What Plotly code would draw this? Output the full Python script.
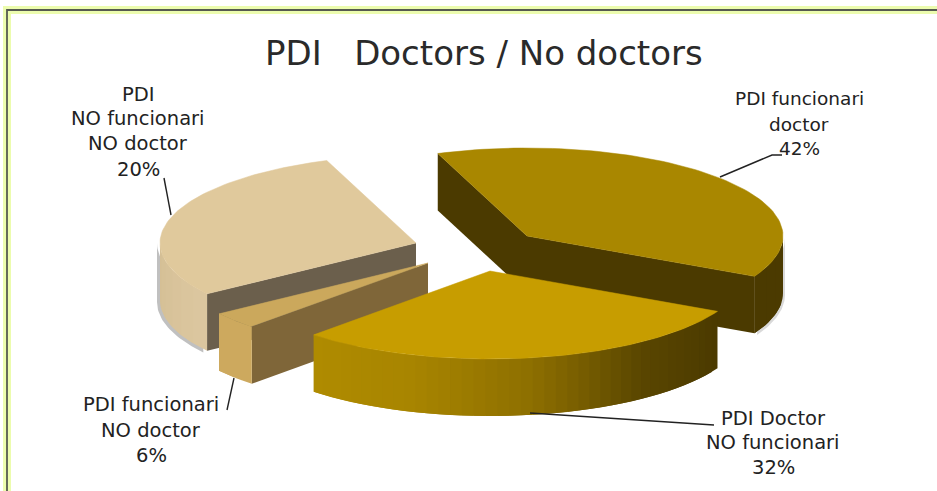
import numpy as np
import plotly.graph_objects as go

# ---- data ----
categories = ["PDI funcionari<br>doctor", "PDI Doctor<br>NO funcionari",
              "PDI funcionari<br>NO doctor", "PDI<br>NO funcionari<br>NO doctor"]
values = [42, 32, 6, 20]
title_text = "PDI\u00a0\u00a0\u00a0Doctors / No doctors"
top_colors = ["#a98700", "#c79d00", "#cba85c", "#e0c99c"]
wall_colors = ["#4b3a00", "#4b3a00", "#7f6639", "#6b5f4c"]
rim_colors = [["#4b3a00", "#4b3a00"],
              ["#4b3a00", "#5a4600", "#8d6f00", "#a88500", "#b08c00"],
              ["#cda95e", "#cda95e"],
              ["#dcc7a0", "#d5bf94"]]

# ---- 3D-look projection of the pie (pixel-based axes) ----
A, B, DEPTH = 256, 88, 57
# Each slice's exploded centre
centres = [(527, 236), (490, 271), (428, 263), (416, 243)]
# Foreshortening of the original perspective: cumulative share -> ellipse angle
WARP_SHARE = [0.0, 0.42, 0.74, 0.80, 1.0]
WARP_ANGLE = [110.4, -27.3, -133.5, -144.7, -249.6]


def ang(share):
    return np.interp(share, WARP_SHARE, WARP_ANGLE)


def rim(c, t):
    t = np.radians(t)
    return c[0] + A * np.cos(t), c[1] - B * np.sin(t)


def hex2rgb(h):
    return np.array([int(h[i:i + 2], 16) for i in (1, 3, 5)], float)


def ramp(cols, f):
    pos = np.linspace(0, 1, len(cols))
    arr = np.array([hex2rgb(c) for c in cols])
    return "rgb(%d,%d,%d)" % tuple(np.interp(f, pos, arr[:, i]) for i in range(3))


fig = go.Figure()


def poly(xs, ys, color, lw=0.0):
    fig.add_trace(go.Scatter(x=list(xs), y=list(ys), mode="lines", fill="toself",
                             fillcolor=color, line=dict(width=lw, color=color),
                             hoverinfo="skip", showlegend=False))


total = float(sum(values))
cum = np.concatenate([[0], np.cumsum(values)]) / total
spans = [(ang(cum[i]), ang(cum[i + 1])) for i in range(len(values))]


def wall(c, t, color):
    x, y = rim(c, t)
    poly([c[0], x, x, c[0]], [c[1], y, y + DEPTH, c[1] + DEPTH], color)


def outer(i, t0, t1, n):
    """Curved outer wall, drawn as overlapping bands so no seams show."""
    c = centres[i]
    edges = np.linspace(t0, t1, n + 1)
    for k in range(n):
        ts = np.linspace(edges[k], t1 if k >= n - 2 else edges[k + 2], 8)
        x, y = rim(c, ts)
        poly(np.r_[x, x[::-1]], np.r_[y, y[::-1] + DEPTH],
             ramp(rim_colors[i], (k + .5) / n))


def top(i):
    c = centres[i]
    x, y = rim(c, np.linspace(spans[i][0], spans[i][1], 80))
    poly(np.r_[c[0], x, c[0]], np.r_[c[1], y, c[1]], top_colors[i], 0.5)


def shadow(i, t0, t1):
    c = (centres[i][0] + 2, centres[i][1] + 2)
    ts = np.linspace(t0, t1, 40)
    x, y = rim(c, ts)
    poly(np.r_[x, x[::-1]], np.r_[y, y[::-1] + DEPTH], "rgba(170,170,170,0.45)")


# Painter's order: back slice, left slices, front slice
shadow(0, 0, -27)
wall(centres[0], spans[0][0], wall_colors[0])
wall(centres[0], spans[0][1], wall_colors[0])
outer(0, 0, spans[0][1], 4)
top(0)

c3 = (centres[3][0] - 3, centres[3][1])
x3, y3 = rim(c3, np.linspace(-145, -180, 30))
poly(np.r_[x3, x3[::-1]], np.r_[y3, y3[::-1] + DEPTH + 2], "rgba(150,150,150,0.6)")
wall(centres[3], spans[3][0], wall_colors[3])
outer(3, spans[3][0], -180, 6)
top(3)

wall(centres[2], spans[2][0], wall_colors[2])
outer(2, spans[2][0], spans[2][1], 2)
top(2)

outer(1, spans[1][0], spans[1][1], 40)
top(1)

# ---- labels, one annotation per text line ----
LABEL_X = [799, 773, 151, 138]
LABEL_Y = [[98, 124, 148], [418, 442, 467], [404, 430, 455], [94, 118, 143, 169]]
LABEL_SIZE = [18.5, 19.5, 19.5, 19.5]
annotations = [dict(x=484, y=53, text=title_text, showarrow=False, xanchor="center",
                    yanchor="middle", font=dict(size=34, color="#2a2a2a"))]
for i, cat in enumerate(categories):
    lines = cat.split("<br>") + [f"{values[i]}%"]
    for line, ly in zip(lines, LABEL_Y[i]):
        annotations.append(dict(x=LABEL_X[i], y=ly, text=line, showarrow=False,
                                xanchor="center", yanchor="middle",
                                font=dict(size=LABEL_SIZE[i], color="#222222")))

leaders = [[(720, 177), (772, 155), (782, 155)],
           [(530, 413), (710, 425), (714, 425)],
           [(234, 378), (227, 410)],
           [(171, 215), (164, 178)]]
for pts in leaders:
    fig.add_trace(go.Scatter(x=[p[0] for p in pts], y=[p[1] for p in pts], mode="lines",
                             line=dict(color="#222222", width=1.4),
                             hoverinfo="skip", showlegend=False))

frame_path = "M 7 495 L 7 10 L 945 10"
shapes = [dict(type="path", path=frame_path, line=dict(color="#ecfcae", width=8), layer="below"),
          dict(type="path", path=frame_path, line=dict(color="#565a50", width=1.8), layer="below")]

fig.update_layout(
    width=937, height=491, autosize=False,
    margin=dict(l=0, r=0, t=0, b=0),
    paper_bgcolor="white", plot_bgcolor="white",
    font=dict(family="DejaVu Sans"),
    showlegend=False,
    xaxis=dict(range=[0, 937], visible=False, fixedrange=True),
    yaxis=dict(range=[491, 0], visible=False, fixedrange=True),
    annotations=annotations, shapes=shapes,
)
fig.write_html("out.html", config=dict(displayModeBar=False),
               post_script="document.body.style.margin='0';document.body.style.overflow='hidden';")
